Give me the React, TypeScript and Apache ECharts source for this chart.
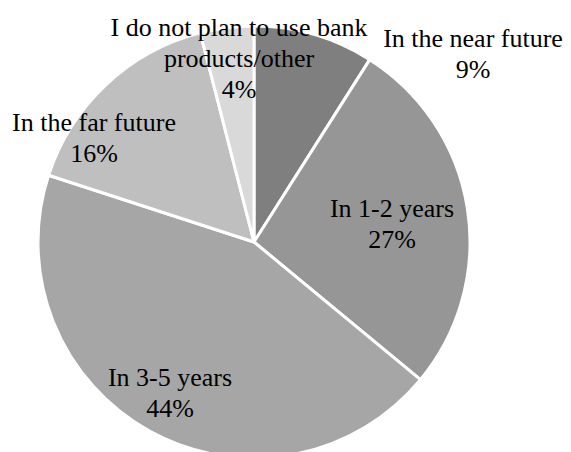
import React, { useEffect, useRef } from "react";
import * as echarts from "echarts";

const categories = [
  "In the near future",
  "In 1-2 years",
  "In 3-5 years",
  "In the far future",
  "I do not plan to use bank\nproducts/other",
];
const values = [9, 27, 44, 16, 4];
const colors = ["#7f7f7f", "#969696", "#a6a6a6", "#bfbfbf", "#d9d9d9"];
const labelPositions: [number, number][] = [
  [473, 54],
  [392, 224],
  [170, 393],
  [94, 138],
  [239, 58],
];

const FONT = "'Liberation Serif', 'Times New Roman', serif";

export default function App() {
  const ref = useRef<HTMLDivElement>(null);
  useEffect(() => {
    if (!ref.current) return;
    const chart = echarts.init(ref.current, undefined, { renderer: "svg" });
    chart.setOption({
      animation: false,
      backgroundColor: "#ffffff",
      textStyle: { fontFamily: FONT },
      series: [
        {
          type: "pie",
          center: [254, 242],
          radius: 216,
          startAngle: 90,
          clockwise: true,
          avoidLabelOverlap: false,
          data: categories.map((name, i) => ({
            name,
            value: values[i],
            itemStyle: { color: colors[i] },
          })),
          itemStyle: { borderColor: "#ffffff", borderWidth: 3 },
          label: {
            show: true,
            position: "outside",
            formatter: (p: any) => `${p.name}\n${p.value}%`,
            color: "#000000",
            fontFamily: FONT,
            fontWeight: "normal",
            fontSize: 26,
            lineHeight: 31,
            align: "center",
            overflow: "none",
          },
          labelLine: { show: false },
          emphasis: { disabled: true },
          labelLayout: (params: any) => {
            const pos = labelPositions[params.dataIndex];
            return { x: pos[0], y: pos[1], align: "center", verticalAlign: "middle", hideOverlap: false };
          },
        },
      ],
    });
    return () => chart.dispose();
  }, []);
  return (
    <div
      ref={ref}
      style={{ position: "fixed", left: 0, top: 0, width: 571, height: 452 }}
    />
  );
}
